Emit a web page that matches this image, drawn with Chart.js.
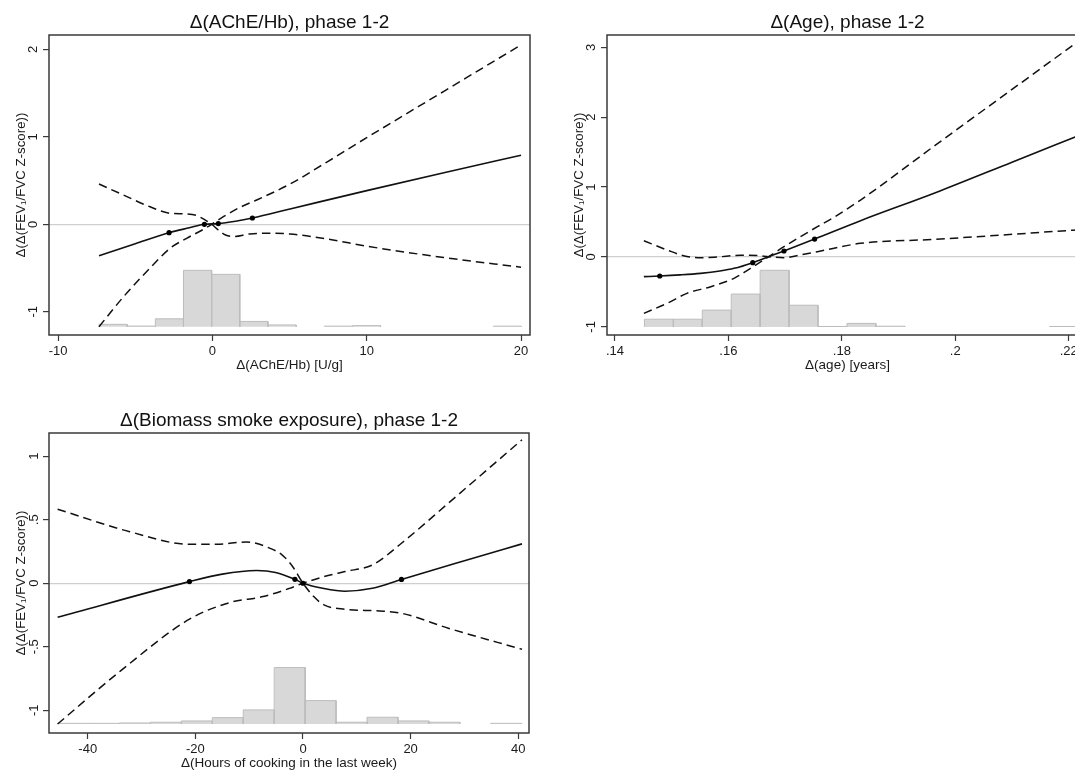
<!DOCTYPE html>
<html>
<head>
<meta charset="utf-8">
<script src="https://cdn.jsdelivr.net/npm/chart.js@4.4.1/dist/chart.umd.min.js"></script>
<style>
  html, body { margin: 0; padding: 0; background: #fff; }
  body { width: 1075px; height: 772px; position: relative; overflow: hidden; }
  canvas { position: absolute; }
  #c1 { left: 0; top: 0; }
  #c2 { left: 558px; top: 0; }
  #c3 { left: 0; top: 398px; }
</style>
</head>
<body>
<canvas id="c1" width="545" height="380"></canvas>
<canvas id="c2" width="545" height="380"></canvas>
<canvas id="c3" width="545" height="380"></canvas>
<script>
// ============ DATA ============
// Panel 1: delta AChE/Hb
const acheFitX  = [-7.35, -5, -2.81, -1.5, -0.52, 0.38, 1.5, 2.59, 5.03, 10, 15, 20];
const acheFitY  = [-0.36, -0.222, -0.096, -0.04, 0.0, 0.008, 0.035, 0.072, 0.175, 0.385, 0.59, 0.79];
const acheCiAX  = [-7.35, -5.77, -4.04, -2.75, -1.67, -1.02, -0.48, -0.05, 0.38, 0.82, 1.35, 2.44, 3.73, 5.03, 7.5, 10, 15, 20];
const acheCiAY  = [0.46, 0.335, 0.20, 0.126, 0.118, 0.10, 0.05, 0.0, -0.065, -0.12, -0.14, -0.11, -0.103, -0.111, -0.17, -0.25, -0.38, -0.49];
const acheCiBX  = [-7.35, -5.77, -4.04, -2.75, -1.67, -0.58, -0.05, 0.71, 1.79, 2.87, 5.03, 7.5, 10, 15, 20];
const acheCiBY  = [-1.17, -0.83, -0.50, -0.275, -0.16, -0.057, 0.0, 0.087, 0.194, 0.278, 0.46, 0.72, 0.99, 1.52, 2.05];
const acheKnotX = [-2.81, -0.52, 0.38, 2.59];
const acheKnotY = [-0.096, 0.0, 0.008, 0.072];
const acheHistEdges = [-7.35, -5.525, -3.7, -1.875, -0.05, 1.775, 3.6, 5.425, 7.25, 9.075, 10.9, 12.725, 14.55, 16.375, 18.2, 20.025];
const acheHistTops  = [-1.143, -1.163, -1.08, -0.526, -0.572, -1.11, -1.15, null, -1.164, -1.158, null, null, null, null, -1.164];
const acheHistBase  = -1.17;
const acheXTicks  = [-10, 0, 10, 20];
const acheXLabels = ['-10', '0', '10', '20'];
const acheYTicks  = [-1, 0, 1, 2];
const acheYLabels = ['-1', '0', '1', '2'];

// Panel 2: delta age
const ageFitX  = [0.1451, 0.1479, 0.1515, 0.1551, 0.1585, 0.1610, 0.1643, 0.1671, 0.1698, 0.1752, 0.1833, 0.1965, 0.2100, 0.2217];
const ageFitY  = [-0.281, -0.272, -0.256, -0.234, -0.20, -0.162, -0.081, 0.004, 0.086, 0.257, 0.52, 0.92, 1.357, 1.736];
const ageCiAX  = [0.1451, 0.1492, 0.1521, 0.1551, 0.1580, 0.1621, 0.1651, 0.1671, 0.1698, 0.1727, 0.1757, 0.1833, 0.1965, 0.2217];
const ageCiAY  = [0.233, 0.10, 0.019, -0.01, 0.0, 0.024, 0.02, 0.004, -0.01, 0.029, 0.076, 0.195, 0.253, 0.389];
const ageCiBX  = [0.1451, 0.1492, 0.1527, 0.1569, 0.1610, 0.1639, 0.1671, 0.1698, 0.1727, 0.1757, 0.1786, 0.1833, 0.1965, 0.2217];
const ageCiBY  = [-0.806, -0.663, -0.52, -0.425, -0.305, -0.162, 0.004, 0.147, 0.29, 0.434, 0.567, 0.815, 1.60, 3.087];
const ageKnotX = [0.1479, 0.1643, 0.1698, 0.1752];
const ageKnotY = [-0.272, -0.081, 0.086, 0.257];
const ageHistEdges = [0.1452, 0.1503, 0.1554, 0.1605, 0.1656, 0.1707, 0.1758, 0.1809, 0.1860, 0.1911, 0.1962, 0.2013, 0.2064, 0.2115, 0.2166, 0.2217];
const ageHistTops  = [-0.89, -0.89, -0.76, -0.53, -0.19, -0.69, -0.994, -0.95, -0.99, null, null, null, null, null, -0.994];
const ageHistBase  = -1.0;
const ageXTicks  = [0.14, 0.16, 0.18, 0.2, 0.22];
const ageXLabels = ['.14', '.16', '.18', '.2', '.22'];
const ageYTicks  = [-1, 0, 1, 2, 3];
const ageYLabels = ['-1', '0', '1', '2', '3'];

// Panel 3: delta hours of cooking
const smokeFitX  = [-45.6, -21.1, -15, -8.6, -5.1, -1.5, 0, 3.9, 7.8, 12.9, 18.3, 30, 40.7];
const smokeFitY  = [-0.268, 0.013, 0.072, 0.10, 0.085, 0.031, 0.0, -0.042, -0.063, -0.04, 0.03, 0.177, 0.31];
const smokeCiAX  = [-45.6, -32.2, -21.1, -16, -10.5, -6.1, -3.8, -1.9, 0, 2, 3.9, 7.8, 14.2, 18.3, 27, 40.7];
const smokeCiAY  = [0.583, 0.406, 0.307, 0.307, 0.325, 0.275, 0.22, 0.13, 0.0, -0.105, -0.17, -0.205, -0.218, -0.236, -0.354, -0.52];
const smokeCiBX  = [-45.6, -33.9, -21.1, -13.6, -7.4, -2.5, 0, 3.9, 7.8, 12.9, 18.3, 27, 40.7];
const smokeCiBY  = [-1.108, -0.69, -0.283, -0.152, -0.105, -0.04, 0.0, 0.052, 0.092, 0.144, 0.315, 0.63, 1.13];
const smokeKnotX = [-21.1, -1.5, 0, 18.3];
const smokeKnotY = [0.013, 0.031, 0.0, 0.03];
const smokeHistEdges = [-45.6, -39.85, -34.1, -28.35, -22.6, -16.85, -11.1, -5.35, 0.4, 6.15, 11.9, 17.65, 23.4, 29.15, 34.9, 40.65];
const smokeHistTops  = [-1.103, -1.103, -1.10, -1.094, -1.084, -1.058, -0.997, -0.664, -0.924, -1.094, -1.055, -1.084, -1.094, null, -1.103];
const smokeHistBase  = -1.108;
const smokeXTicks  = [-40, -20, 0, 20, 40];
const smokeXLabels = ['-40', '-20', '0', '20', '40'];
const smokeYTicks  = [-1, -0.5, 0, 0.5, 1];
const smokeYLabels = ['-1', '-.5', '0', '.5', '1'];

const Y_TITLE = 'Δ(Δ(FEV₁/FVC Z-score))';

// ============ HELPERS ============
Chart.defaults.font.family = "'Liberation Sans', Arial, sans-serif";
Chart.defaults.color = '#1a1a1a';

function xy(xs, ys) {
    return xs.map((x, i) => ({ x: x, y: ys[i] }));
}

// each bin as its own open rectangle, separated by a gap point
function histPoints(edges, tops, base) {
    const pts = [];
    tops.forEach((t, i) => {
        if (t === null) return;
        pts.push({ x: edges[i], y: base }, { x: edges[i], y: t },
                 { x: edges[i + 1], y: t }, { x: edges[i + 1], y: base },
                 { x: edges[i + 1], y: null });
    });
    return pts;
}

const framePlugin = {
    id: 'frame',
    afterDatasetsDraw(chart) {
        const { ctx, chartArea: a } = chart;
        ctx.save();
        ctx.strokeStyle = '#3a3a3a';
        ctx.lineWidth = 1.5;
        ctx.strokeRect(a.left, a.top, a.right - a.left, a.bottom - a.top);
        ctx.restore();
    }
};

function makePanel(id, p) {
    const lineBase = {
        type: 'line', pointRadius: 0, borderColor: '#111', fill: false,
        cubicInterpolationMode: 'monotone'
    };
    return new Chart(document.getElementById(id), {
        type: 'line',
        data: {
            datasets: [
                { type: 'line', data: xy(p.knotX, p.knotY), showLine: false,
                  pointRadius: 2.6, pointBackgroundColor: '#000', pointBorderWidth: 0 },
                { ...lineBase, data: xy(p.fitX, p.fitY), borderWidth: 1.6 },
                { ...lineBase, data: xy(p.ciAX, p.ciAY), borderWidth: 1.5, borderDash: [8.5, 5] },
                { ...lineBase, data: xy(p.ciBX, p.ciBY), borderWidth: 1.5, borderDash: [8.5, 5] },
                { type: 'line', data: histPoints(p.histEdges, p.histTops, p.histBase),
                  pointRadius: 0, borderColor: '#bdbdbd', borderWidth: 1,
                  backgroundColor: '#d8d8d8', fill: { value: p.histBase }, spanGaps: false }
            ]
        },
        options: {
            responsive: false,
            animation: false,
            events: [],
            layout: { padding: { left: 0, right: p.padRight, top: 0, bottom: 0 } },
            plugins: {
                legend: { display: false },
                tooltip: { enabled: false },
                title: {
                    display: true, text: p.title, fullSize: false,
                    font: { size: 19, weight: 'normal' }, color: '#111',
                    padding: { top: 11.6, bottom: 0.6 }
                }
            },
            scales: {
                x: {
                    type: 'linear', min: p.xMin, max: p.xMax,
                    afterFit: s => { s.height = 45; },
                    afterBuildTicks: s => { s.ticks = p.xTicks.map(v => ({ value: v })); },
                    ticks: { callback: (v, i) => p.xLabels[i], font: { size: 13 }, padding: 3,
                             maxRotation: 0, autoSkip: false, color: '#1a1a1a' },
                    grid: { drawOnChartArea: false, tickLength: 6, tickColor: '#3a3a3a', tickWidth: 1.2 },
                    border: { display: false },
                    title: { display: true, text: p.xTitle, font: { size: 13.5 }, color: '#1a1a1a',
                             padding: { top: 0, bottom: 7 } }
                },
                y: {
                    type: 'linear', min: p.yMin, max: p.yMax,
                    afterFit: s => { s.width = 49; },
                    afterBuildTicks: s => { s.ticks = p.yTicks.map(v => ({ value: v })); },
                    ticks: { callback: (v, i) => p.yLabels[i], font: { size: 13 }, padding: p.yPad,
                             minRotation: 90, maxRotation: 90, crossAlign: 'center',
                             autoSkip: false, color: '#1a1a1a' },
                    grid: {
                        color: c => (c.tick && c.tick.value === 0) ? '#cfcfcf' : 'rgba(0,0,0,0)',
                        lineWidth: 1.2, tickLength: 6, tickColor: '#3a3a3a', tickWidth: 1.2
                    },
                    border: { display: false },
                    title: { display: true, text: Y_TITLE, font: { size: 13.3 }, color: '#1a1a1a',
                             padding: { top: 13, bottom: 0 } }
                }
            }
        },
        plugins: [framePlugin]
    });
}

// ============ PANELS ============
makePanel('c1', {
    title: 'Δ(AChE/Hb), phase 1-2', xTitle: 'Δ(AChE/Hb) [U/g]',
    fitX: acheFitX, fitY: acheFitY, ciAX: acheCiAX, ciAY: acheCiAY, ciBX: acheCiBX, ciBY: acheCiBY,
    knotX: acheKnotX, knotY: acheKnotY,
    histEdges: acheHistEdges, histTops: acheHistTops, histBase: acheHistBase,
    xTicks: acheXTicks, xLabels: acheXLabels, yTicks: acheYTicks, yLabels: acheYLabels,
    xMin: -10.59, xMax: 20.58, yMin: -1.265, yMax: 2.163, padRight: 15, yPad: 3.7
});

makePanel('c2', {
    title: 'Δ(Age), phase 1-2', xTitle: 'Δ(age) [years]',
    fitX: ageFitX, fitY: ageFitY, ciAX: ageCiAX, ciAY: ageCiAY, ciBX: ageCiBX, ciBY: ageCiBY,
    knotX: ageKnotX, knotY: ageKnotY,
    histEdges: ageHistEdges, histTops: ageHistTops, histBase: ageHistBase,
    xTicks: ageXTicks, xLabels: ageXLabels, yTicks: ageYTicks, yLabels: ageYLabels,
    xMin: 0.1386, xMax: 0.2234, yMin: -1.116, yMax: 3.176, padRight: 15, yPad: 3.7
});

makePanel('c3', {
    title: 'Δ(Biomass smoke exposure), phase 1-2', xTitle: 'Δ(Hours of cooking in the last week)',
    fitX: smokeFitX, fitY: smokeFitY, ciAX: smokeCiAX, ciAY: smokeCiAY, ciBX: smokeCiBX, ciBY: smokeCiBY,
    knotX: smokeKnotX, knotY: smokeKnotY,
    histEdges: smokeHistEdges, histTops: smokeHistTops, histBase: smokeHistBase,
    xTicks: smokeXTicks, xLabels: smokeXLabels, yTicks: smokeYTicks, yLabels: smokeYLabels,
    xMin: -47.2, xMax: 42.0, yMin: -1.179, yMax: 1.183, padRight: 16, yPad: 1.4
});
</script>
</body>
</html>
